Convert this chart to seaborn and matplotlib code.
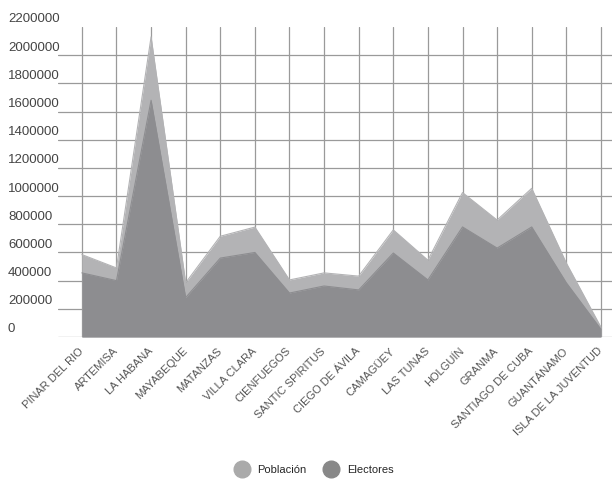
import numpy as np
import pandas as pd
import matplotlib
matplotlib.use("Agg")
import matplotlib.pyplot as plt
import seaborn as sns
from matplotlib.transforms import ScaledTranslation
from matplotlib.lines import Line2D

provincias = ["PINAR DEL RIO", "ARTEMISA", "LA HABANA", "MAYABEQUE", "MATANZAS",
              "VILLA CLARA", "CIENFUEGOS", "SANTIC SPIRITUS", "CIEGO DE ÁVILA",
              "CAMAGÜEY", "LAS TUNAS", "HOLGUÍN", "GRANMA", "SANTIAGO DE CUBA",
              "GUANTÁNAMO", "ISLA DE LA JUVENTUD"]
poblacion = [585000, 490000, 2130000, 385000, 715000, 780000, 405000, 455000,
             432000, 760000, 545000, 1025000, 830000, 1055000, 525000, 70000]
electores = [455000, 400000, 1680000, 280000, 560000, 600000, 312000, 362000,
             334000, 596000, 405000, 781000, 631000, 781000, 385000, 55000]
y_ticks = [0, 200000, 400000, 600000, 800000, 1000000, 1200000, 1400000,
           1600000, 1800000, 2000000, 2200000]
series_names = ["Población", "Electores"]

col_pob = "#b3b3b5"
col_ele = "#8d8d90"

sns.set_theme(style="white")
plt.rcParams["font.family"] = ["Liberation Sans", "DejaVu Sans"]

df = pd.DataFrame({"idx": np.arange(len(provincias)), "Población": poblacion,
                   "Electores": electores})

fig = plt.figure(figsize=(6.12, 4.92), dpi=100)
W, H = 612, 492
ax = fig.add_axes([58 / W, 1 - 337 / H, (612 - 58) / W, 310 / H])

ax.fill_between(df["idx"], df["Población"], color=col_pob, lw=0, zorder=2)
sns.lineplot(data=df, x="idx", y="Población", ax=ax, color=col_pob, lw=0.8, zorder=2)
ax.fill_between(df["idx"], df["Electores"], color=col_ele, lw=0, zorder=3)
sns.lineplot(data=df, x="idx", y="Electores", ax=ax, color=col_ele, lw=0.8, zorder=3)

ax.set_xlim(-0.69, 15.32)
ax.set_ylim(0, 2200000)
ax.set_xlabel("")
ax.set_ylabel("")
for s in ax.spines.values():
    s.set_visible(False)

ax.set_xticks(df["idx"])
ax.set_xticklabels(provincias, rotation=45, ha="right", va="center",
                   rotation_mode="anchor", fontsize=8, color="#555555")
ax.set_yticks(y_ticks)
ax.set_yticklabels([str(v) for v in y_ticks], fontsize=9.5, color="#444444")
ax.tick_params(axis="x", length=0, pad=9)
ax.tick_params(axis="y", length=0, pad=36)
off = ScaledTranslation(0, 9 / 100, fig.dpi_scale_trans)
for lab in ax.get_yticklabels():
    lab.set_horizontalalignment("left")
    lab.set_transform(lab.get_transform() + off)

ax.grid(True, color="#9a9a9a", lw=0.9, zorder=1)
ax.set_axisbelow(True)
ax.get_ygridlines()[-1].set_visible(False)

handles = [Line2D([], [], marker="o", ls="", markersize=12,
                  markerfacecolor=c, markeredgecolor=c) for c in ["#aaaaaa", "#888888"]]
fig.legend(handles, series_names, loc="center", bbox_to_anchor=(312 / W, 1 - 470 / H),
           ncol=2, frameon=False, fontsize=8, handletextpad=0.4, columnspacing=1.2)

fig.savefig("out.png", dpi=100)
